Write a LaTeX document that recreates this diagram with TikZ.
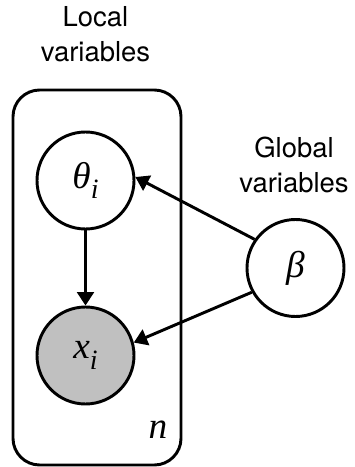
\documentclass[tikz,border=0pt]{standalone}
\usepackage{fontspec}
\setmainfont{TeX Gyre Heros}
\newfontfamily\varfont{Liberation Serif}
\usepackage{xcolor}
\usepackage{tikz}
\usetikzlibrary{arrows.meta,positioning}
\definecolor{obsgray}{RGB}{192,192,192}
\newcommand{\varname}[2]{#1\raisebox{-0.28em}{\fontsize{21}{21}\selectfont #2}}

\begin{document}
\begin{tikzpicture}[x=0.75pt,y=-0.75pt,
        var/.style={circle,draw,line width=2.2pt,minimum size=72.75pt,inner sep=0pt,font=\varfont\itshape\fontsize{28}{32}\selectfont},
        lbl/.style={align=center,inner sep=0pt,font=\fontsize{20.6}{26.25}\selectfont},
        edge/.style={-{Triangle[length=10pt,width=12.5pt]},line width=2.2pt}]
        \useasboundingbox (0,0) rectangle (354,467);
        \draw[line width=2.2pt,rounded corners=20pt] (13,90) rectangle (181,465);
        \node[var] (theta) at (85.5,180.5) {\varname{θ}{i}};
        \node[var,fill=obsgray] (x) at (85.5,355.5) {\varname{x}{i}};
        \node[var] (beta) at (295.5,268) {β};
        \node[lbl] (local) at (95.5,34.5) {Local\\variables};
        \node[lbl] (global) at (294,164.5) {Global\\variables};
        \node[font=\varfont\itshape\fontsize{28}{32}\selectfont,inner sep=0pt] (n) at (158,430) {n};
        \draw[edge] (theta) -- (x);
        \draw[edge] (beta.145) -- (theta.4);
        \draw[edge] (beta.209) -- (x.15);
    \end{tikzpicture}
\end{document}
